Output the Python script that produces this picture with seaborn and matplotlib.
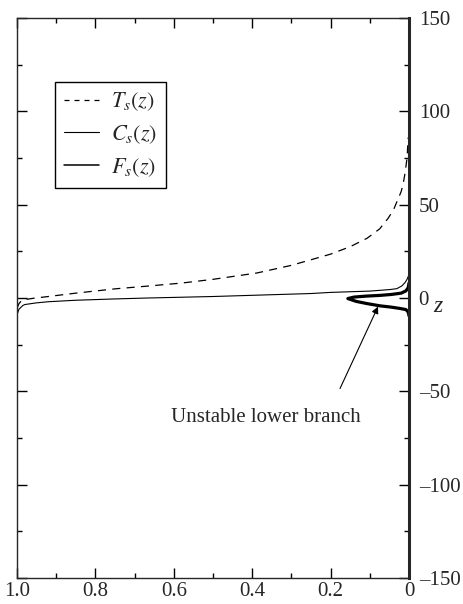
import matplotlib
matplotlib.use("Agg")
import matplotlib.pyplot as plt
import seaborn as sns
import pandas as pd
from matplotlib.ticker import MultipleLocator, FixedLocator
from matplotlib.lines import Line2D

# ---- data ----
ts_x = [1.0, 0.995, 0.987, 0.96, 0.92, 0.85, 0.75, 0.66, 0.58, 0.5, 0.388, 0.3,
        0.2, 0.15, 0.107, 0.075, 0.054, 0.04, 0.03, 0.02, 0.015, 0.01, 0.005, 0.002]
ts_z = [-5.5, -3.0, -1.1, -0.2, 0.8, 2.6, 4.9, 6.5, 8.0, 10.0, 13.4, 17.5,
        23.5, 27.5, 32.0, 37.0, 42.5, 47.0, 52.0, 57.0, 61.0, 67.0, 75.0, 86.0]

cs_x = [1.0, 0.995, 0.985, 0.98, 0.95, 0.92, 0.85, 0.75, 0.666, 0.5, 0.375, 0.25,
        0.2, 0.1, 0.05, 0.031, 0.018, 0.01, 0.005, 0.002, 0.0]
cs_z = [-9.0, -6.0, -4.0, -3.5, -2.6, -2.0, -1.2, -0.5, 0.0, 0.8, 1.6, 2.4,
        3.0, 3.7, 4.5, 5.0, 6.5, 8.3, 10.0, 11.5, 12.5]

fs_x = [0.0, 0.002, 0.008, 0.023, 0.045, 0.074, 0.107, 0.135, 0.156, 0.14, 0.11,
        0.074, 0.045, 0.02, 0.008, 0.002, 0.0]
fs_z = [-9.5, -7.5, -6.2, -5.6, -4.9, -4.2, -3.0, -1.8, -0.3, 0.5, 1.0,
        1.4, 1.9, 2.6, 3.8, 5.5, 8.0]

labels = [r"$T_s(z)$", r"$C_s(z)$", r"$F_s(z)$"]
x_ticks = [1.0, 0.8, 0.6, 0.4, 0.2, 0.0]
x_tick_labels = ["1.0", "0.8", "0.6", "0.4", "0.2", "0"]
y_ticks = [-150, -100, -50, 0, 50, 100, 150]
y_tick_labels = ["\u2013150", "\u2013100", "\u201350", "0", "50", "100", "150"]
annotation_text = "Unstable lower branch"

# ---- style ----
sns.set_style("ticks")
plt.rcParams["font.family"] = ["Liberation Serif", "DejaVu Serif"]
plt.rcParams["mathtext.fontset"] = "stix"
plt.rcParams["axes.linewidth"] = 1.0

fig = plt.figure(figsize=(4.63, 6.04), dpi=100)
ax = fig.add_axes([17 / 463, 1 - 578 / 604, 392 / 463, 560 / 604])

df_t = pd.DataFrame({"x": ts_x, "z": ts_z})
df_c = pd.DataFrame({"x": cs_x, "z": cs_z})
df_f = pd.DataFrame({"x": fs_x, "z": fs_z})

sns.lineplot(data=df_t, x="x", y="z", sort=False, estimator=None, ax=ax,
             color="black", lw=0.9, legend=False)
ax.lines[-1].set_dashes((6.5, 5))
sns.lineplot(data=df_c, x="x", y="z", sort=False, estimator=None, ax=ax,
             color="black", lw=0.8, legend=False)
sns.lineplot(data=df_f, x="x", y="z", sort=False, estimator=None, ax=ax,
             color="black", lw=2.3, legend=False)

ax.set_xlim(1.0, 0.0)
ax.set_ylim(-150, 150)

ax.xaxis.set_major_locator(FixedLocator(x_ticks))
ax.set_xticklabels(x_tick_labels)
ax.xaxis.set_minor_locator(MultipleLocator(0.1))
ax.yaxis.set_major_locator(FixedLocator(y_ticks))
ax.set_yticklabels(y_tick_labels)
ax.yaxis.set_minor_locator(MultipleLocator(25))

ax.tick_params(which="both", direction="in", top=True, bottom=True,
               left=True, right=True, labelleft=False, labelright=True,
               labelsize=15, width=1.0, color="black")
ax.tick_params(which="major", length=7)
ax.tick_params(which="minor", length=3.5)
ax.tick_params(axis="x", which="major", pad=3)
ax.tick_params(axis="y", which="major", pad=7)
ax.set_xlabel("")
ax.set_ylabel("")
for s in ["top", "bottom", "left"]:
    ax.spines[s].set_visible(True)
    ax.spines[s].set_linewidth(1.0)
ax.spines["right"].set_visible(True)
ax.spines["right"].set_linewidth(2.2)

ax.text(1.073, (578 - 307) / 560, "z", transform=ax.transAxes,
        fontsize=17, style="italic", ha="center", va="center")

ax.annotate("", xy=(0.079, -4.6), xytext=(0.176, -48.5),
            arrowprops=dict(arrowstyle="-|>", lw=0.8, color="black",
                            mutation_scale=10, shrinkA=0, shrinkB=0))
ax.text(0.365, -64, annotation_text, fontsize=15, ha="center", va="center")

handles = [Line2D([], [], color="black", lw=0.9, dashes=(4, 4)),
           Line2D([], [], color="black", lw=0.8),
           Line2D([], [], color="black", lw=1.1)]
leg = ax.legend(handles, labels, loc="upper left", bbox_to_anchor=(0.097, 0.886),
                borderaxespad=0, frameon=True, fancybox=False, fontsize=16,
                handlelength=1.6, handletextpad=0.5, labelspacing=0.45,
                borderpad=0.4)
leg.get_frame().set_edgecolor("black")
leg.get_frame().set_linewidth(1.0)
leg.get_frame().set_alpha(1)

fig.savefig("out.png", dpi=100)
